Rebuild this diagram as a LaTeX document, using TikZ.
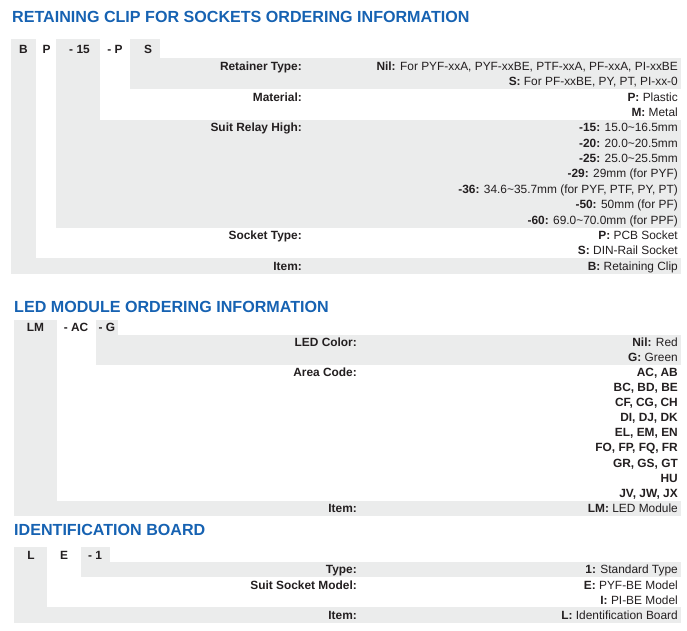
\documentclass[tikz,border=0pt]{standalone}
\usepackage{fontspec}
\setmainfont{Liberation Sans}
\definecolor{cellgray}{RGB}{235,236,236}
\definecolor{titleblue}{RGB}{22,98,178}
\definecolor{txt}{RGB}{35,31,32}
\begin{document}
\begin{tikzpicture}[x=1pt,y=-1pt,
  every node/.style={inner sep=0pt, text=txt, font=\fontsize{11.9}{13}\selectfont, text height=8.5pt, text depth=0pt},
  title/.style={anchor=west, text=titleblue, font=\fontsize{16.1}{18}\selectfont\bfseries, text height=11.5pt},
  lbl/.style={anchor=east, font=\fontsize{11.9}{13}\selectfont\bfseries},
  val/.style={anchor=east},
  hdr/.style={anchor=center, font=\fontsize{11.9}{13}\selectfont\bfseries},
  cell/.style={fill=cellgray, draw=none}]
\useasboundingbox (0,0) rectangle (687,630);

% ---------------- Section 1 ----------------
\fill[cell] (11,39.3) rectangle (36,273.7);
\fill[cell] (11,258.3) rectangle (680.5,273.7);
\fill[cell] (56,39.3) rectangle (100,227.5);
\fill[cell] (56,119.8) rectangle (680.5,227.5);
\fill[cell] (130,39.3) rectangle (160,58.3);
\fill[cell] (130,58.3) rectangle (680.5,89.1);

\node[title] (t1) at (12,17) {RETAINING CLIP FOR SOCKETS ORDERING INFORMATION};
\node[hdr] (h1a) at (23.5,49) {B};
\node[hdr] (h1b) at (46.5,49) {P};
\node[hdr] (h1c) at (79.5,49) {- 15};
\node[hdr] (h1d) at (115,49) {- P};
\node[hdr] (h1e) at (148,49) {S};

\node[lbl] (l1a) at (302,66) {Retainer Type:};
\node[lbl] (l1b) at (302,96.8) {Material:};
\node[lbl] (l1c) at (302,127.5) {Suit Relay High:};
\node[lbl] (l1d) at (302,235.2) {Socket Type:};
\node[lbl] (l1e) at (302,266) {Item:};

\node[val] (v1a) at (678,66) {\textbf{Nil:} For PYF-xxA, PYF-xxBE, PTF-xxA, PF-xxA, PI-xxBE};
\node[val] (v1b) at (678,81.4) {\textbf{S:} For PF-xxBE, PY, PT, PI-xx-0};
\node[val] (v1c) at (678,96.8) {\textbf{P:} Plastic};
\node[val] (v1d) at (678,112.1) {\textbf{M:} Metal};
\node[val] (v1e) at (678,127.5) {\textbf{-15:} 15.0\textasciitilde16.5mm};
\node[val] (v1f) at (678,142.9) {\textbf{-20:} 20.0\textasciitilde20.5mm};
\node[val] (v1g) at (678,158.3) {\textbf{-25:} 25.0\textasciitilde25.5mm};
\node[val] (v1h) at (678,173.7) {\textbf{-29:} 29mm (for PYF)};
\node[val] (v1i) at (678,189.0) {\textbf{-36:} 34.6\textasciitilde35.7mm (for PYF, PTF, PY, PT)};
\node[val] (v1j) at (678,204.4) {\textbf{-50:} 50mm (for PF)};
\node[val] (v1k) at (678,219.8) {\textbf{-60:} 69.0\textasciitilde70.0mm (for PPF)};
\node[val] (v1l) at (678,235.2) {\textbf{P:} PCB Socket};
\node[val] (v1m) at (678,250.6) {\textbf{S:} DIN-Rail Socket};
\node[val] (v1n) at (678,266) {\textbf{B:} Retaining Clip};

% ---------------- Section 2 ----------------
\fill[cell] (14,320) rectangle (56.5,515.6);
\fill[cell] (14,500.5) rectangle (680.5,515.6);
\fill[cell] (96,320) rectangle (118,334.5);
\fill[cell] (96,334.5) rectangle (680.5,365);

\node[title] (t2) at (14,307) {LED MODULE ORDERING INFORMATION};
\node[hdr] (h2a) at (35.5,327.5) {LM};
\node[hdr] (h2b) at (76,327.5) {- AC};
\node[hdr] (h2c) at (107,327.5) {- G};

\node[lbl] (l2a) at (357,342) {LED Color:};
\node[lbl] (l2b) at (357,372.2) {Area Code:};
\node[lbl] (l2c) at (357,508.1) {Item:};

\node[val] (v2a) at (678,342) {\textbf{Nil:} Red};
\node[val] (v2b) at (678,357.1) {\textbf{G:} Green};
\node[val] (v2c) at (678,372.2) {\textbf{AC, AB}};
\node[val] (v2d) at (678,387.3) {\textbf{BC, BD, BE}};
\node[val] (v2e) at (678,402.4) {\textbf{CF, CG, CH}};
\node[val] (v2f) at (678,417.5) {\textbf{DI, DJ, DK}};
\node[val] (v2g) at (678,432.6) {\textbf{EL, EM, EN}};
\node[val] (v2h) at (678,447.7) {\textbf{FO, FP, FQ, FR}};
\node[val] (v2i) at (678,462.8) {\textbf{GR, GS, GT}};
\node[val] (v2j) at (678,477.9) {\textbf{HU}};
\node[val] (v2k) at (678,493.0) {\textbf{JV, JW, JX}};
\node[val] (v2l) at (678,508.1) {\textbf{LM:} LED Module};

% ---------------- Section 3 ----------------
\fill[cell] (14,547) rectangle (47,622.7);
\fill[cell] (14,607) rectangle (680.5,622.7);
\fill[cell] (81,547) rectangle (110,562);
\fill[cell] (81,562) rectangle (680.5,577.3);

\node[title] (t3) at (14,530) {IDENTIFICATION BOARD};
\node[hdr] (h3a) at (31,555) {L};
\node[hdr] (h3b) at (64,555) {E};
\node[hdr] (h3c) at (95,555) {- 1};

\node[lbl] (l3a) at (357,569.6) {Type:};
\node[lbl] (l3b) at (357,584.8) {Suit Socket Model:};
\node[lbl] (l3c) at (357,615.1) {Item:};

\node[val] (v3a) at (678,569.6) {\textbf{1:} Standard Type};
\node[val] (v3b) at (678,584.8) {\textbf{E:} PYF-BE Model};
\node[val] (v3c) at (678,599.9) {\textbf{I:} PI-BE Model};
\node[val] (v3d) at (678,615.1) {\textbf{L:} Identification Board};
\end{tikzpicture}
\end{document}
